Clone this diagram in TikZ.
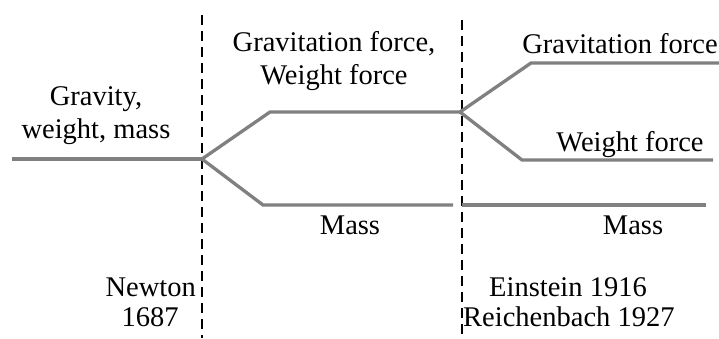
\documentclass[tikz,border=0pt]{standalone}
\usepackage{fontspec}
\setmainfont{Liberation Serif}
\definecolor{branch}{RGB}{128,128,128}
\begin{document}
\begin{tikzpicture}[x=1pt,y=-1pt,
  branchline/.style={draw=branch,line width=3.3pt},
  divider/.style={draw=black,line width=2.2pt,dash pattern=on 10pt off 6pt},
  lbl/.style={inner sep=0pt,font=\fontsize{28.5}{33}\selectfont,align=center}]
\useasboundingbox (0,0) rectangle (719,338);
% coordinates
\coordinate (start) at (12,159);
\coordinate (s1) at (202,159);
\coordinate (u1) at (270,112);
\coordinate (s2) at (460,112);
\coordinate (d1) at (263,205);
\coordinate (d2) at (453,205);
\coordinate (gu) at (531,63);
\coordinate (gend) at (719,63);
\coordinate (wd) at (522,160);
\coordinate (wend) at (713,160);
\coordinate (m1) at (462,205);
\coordinate (m2) at (706,205);
\coordinate (n1) at (202,15);
\coordinate (n2) at (202,338);
\coordinate (e1) at (462,20);
\coordinate (e2) at (462,338);
% dividers
\draw[divider] (n1) -- (n2);
\draw[divider] (e1) -- (e2);
% branches
\draw[branchline] (start) -- (s1);
\draw[branchline] (s1) -- (u1) -- (s2);
\draw[branchline] (s1) -- (d1) -- (d2);
\draw[branchline] (s2) -- (gu) -- (gend);
\draw[branchline] (s2) -- (wd) -- (wend);
\draw[branchline] (m1) -- (m2);
% labels
\node[lbl] (gwm) at (96,116) {Gravity,\\weight, mass};
\node[lbl] (gfwf) at (334,61) {Gravitation force,\\Weight force};
\node[lbl] (massl) at (350,225) {Mass};
\node[lbl] (gf) at (620,44) {Gravitation force};
\node[lbl] (wf) at (630,145) {Weight force};
\node[lbl] (massr) at (633,225) {Mass};
\node[lbl,anchor=east] (newton) at (196,287) {Newton};
\node[lbl] (y1687) at (150,317) {1687};
\node[lbl] (einstein) at (568,287) {Einstein 1916};
\node[lbl,anchor=west] (reich) at (463,317) {Reichenbach 1927};
\end{tikzpicture}
\end{document}
